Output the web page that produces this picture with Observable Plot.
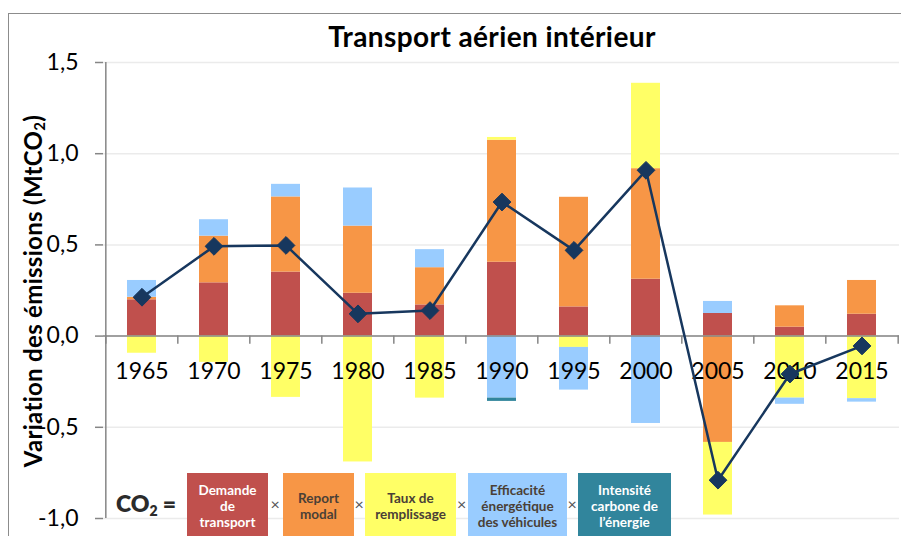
<!DOCTYPE html>
<html>
<head>
<meta charset="utf-8">
<script src="https://cdn.jsdelivr.net/npm/d3@7"></script>
<script src="https://cdn.jsdelivr.net/npm/@observablehq/plot@0.6"></script>
<style>
  body { margin: 0; background: #fff; font-family: Lato, "Open Sans", sans-serif; }
  #wrap { position: relative; width: 901px; height: 536px; overflow: hidden; background: #fff; }
  #chart { position: absolute; left: 0; top: 0; }
  #frame { position: absolute; left: 8px; top: 13px; width: 1000px; height: 1000px;
           border-left: 1.5px solid #8c8c8c; border-top: 1.5px solid #8c8c8c; pointer-events: none; }
  #title { position: absolute; left: 242px; top: 20px; width: 500px; text-align: center;
           font-weight: 700; font-size: 28px; letter-spacing: 0.4px; line-height: 32px; color: #000; }
  #ylabel { position: absolute; left: -167px; top: 276px; width: 400px; height: 30px; text-align: center;
            font-weight: 700; font-size: 24px; letter-spacing: 0.3px; line-height: 30px; color: #000; transform: rotate(-90deg); }
  #ylabel sub { font-size: 15px; vertical-align: -3px; line-height: 0; }
  .box { position: absolute; top: 473px; height: 66px; display: flex; align-items: center; justify-content: center;
         text-align: center; font-weight: 700; font-size: 13.5px; line-height: 16px; }
  .times { position: absolute; top: 494px; font-size: 16px; color: #555; }
  #co2 { position: absolute; left: 116px; top: 489px; font-weight: 800; font-size: 23px; color: #2b2b2b; }
  #co2 sub { font-size: 14px; vertical-align: -4px; line-height: 0; }
</style>
</head>
<body>
<div id="wrap">
  <div id="chart"></div>
  <div id="frame"></div>
  <div id="title">Transport aérien intérieur</div>
  <div id="ylabel">Variation des émissions (MtCO<sub>2</sub>)</div>
  <div id="legend"></div>
</div>
<script>
// ---- Data (MtCO2) ----
const years = ["1965", "1970", "1975", "1980", "1985", "1990", "1995", "2000", "2005", "2010", "2015"];
const demande    = [0.199, 0.292, 0.351, 0.235, 0.171, 0.405, 0.160, 0.312, 0.124, 0.049, 0.120];
const report     = [0.014, 0.256, 0.412, 0.368, 0.204, 0.669, 0.601, 0.606, -0.583, 0.117, 0.185];
const taux       = [-0.094, -0.144, -0.336, -0.690, -0.340, 0.015, -0.062, 0.468, -0.398, -0.340, -0.343];
const efficacite = [0.092, 0.090, 0.069, 0.209, 0.099, -0.340, -0.234, -0.479, 0.066, -0.034, -0.019];
const intensite  = [0, 0, 0, 0, 0, -0.018, 0, 0, 0, 0, 0];
const total      = [0.213, 0.492, 0.497, 0.122, 0.140, 0.735, 0.470, 0.909, -0.790, -0.208, -0.054];

const seriesNames = ["Demande de transport", "Report modal", "Taux de remplissage",
                     "Efficacité énergétique des véhicules", "Intensité carbone de l’énergie"];
const legendLabels = [["Demande", "de", "transport"], ["Report", "modal"], ["Taux de", "remplissage"],
                      ["Efficacité", "énergétique", "des véhicules"], ["Intensité", "carbone de", "l’énergie"]];
const seriesColors = ["#C0504D", "#F79646", "#FFFF66", "#99CCFF", "#31859C"];
const yTicks = [-1, -0.5, 0, 0.5, 1, 1.5];

// ---- Tables built from the arrays ----
const seriesValues = [demande, report, taux, efficacite, intensite];
const rows = seriesNames.flatMap((s, i) => years.map((y, j) => ({year: y, series: s, value: seriesValues[i][j]})));
const totalRows = years.map((y, j) => ({year: y, total: total[j]}));

const W = 901, H = 536, ML = 103, MR = 2, MT = 62, MB = 18;
const step = (W - ML - MR) / years.length;
const fmt = d => d.toFixed(1).replace(".", ",");
const axisGray = "#868686";

const chart = Plot.plot({
  width: W, height: H,
  marginLeft: ML, marginRight: MR, marginTop: MT, marginBottom: MB,
  style: {fontFamily: "Lato, 'Open Sans', sans-serif", fontSize: "23px", background: "transparent", color: "#000"},
  x: {domain: years, paddingInner: 0.6, paddingOuter: 0.3, align: 0.5, axis: null},
  y: {domain: [-1, 1.5], axis: null},
  color: {domain: seriesNames, range: seriesColors},
  marks: [
    Plot.gridY(yTicks, {stroke: "#EBEBEB", strokeOpacity: 1, strokeWidth: 1.5}),
    Plot.axisY(yTicks, {tickFormat: fmt, tickSize: 8, tickPadding: 17, stroke: axisGray, strokeWidth: 1.5,
                        fill: "#000", fontSize: 23}),
    Plot.ruleX([years[0]], {x: d => d, y1: -1, y2: 1.5, dx: -step / 2, stroke: axisGray, strokeWidth: 1.5}),
    Plot.barY(rows, {x: "year", y: "value", fill: "series"}),
    Plot.ruleY([0], {stroke: axisGray, strokeWidth: 1.5}),
    Plot.ruleX(years, {x: d => d, y1: 0, y2: -0.045, dx: -step / 2, stroke: axisGray, strokeWidth: 1.5}),
    Plot.ruleX([years[years.length - 1]], {x: d => d, y1: 0, y2: -0.045, dx: step / 2, stroke: axisGray, strokeWidth: 1.5}),
    Plot.text(years, {x: d => d, y: 0, text: d => d, dy: 36, fontSize: 23, fill: "#000"}),
    Plot.line(totalRows, {x: "year", y: "total", stroke: "#17375E", strokeWidth: 2.5}),
    Plot.dot(totalRows, {x: "year", y: "total", symbol: "diamond2", r: 8, fill: "#17375E", stroke: "#17375E", strokeWidth: 1})
  ]
});
document.getElementById("chart").appendChild(chart);

// ---- Legend (equation of factors) ----
const legend = document.getElementById("legend");
const boxPos = [[187, 81], [283, 71], [365, 91], [468, 99], [578, 93]];
const textColors = ["#fff", "#4a4036", "#4a4036", "#4a4036", "#fff"];
const co2 = document.createElement("div");
co2.id = "co2";
co2.innerHTML = "CO<sub>2</sub> =";
legend.appendChild(co2);
seriesNames.forEach((s, i) => {
  const b = document.createElement("div");
  b.className = "box";
  b.style.left = boxPos[i][0] + "px";
  b.style.width = boxPos[i][1] + "px";
  b.style.background = seriesColors[i];
  b.style.color = textColors[i];
  b.innerHTML = legendLabels[i].join("<br>");
  legend.appendChild(b);
  if (i < seriesNames.length - 1) {
    const t = document.createElement("div");
    t.className = "times";
    t.textContent = "×";
    const end = boxPos[i][0] + boxPos[i][1], next = boxPos[i + 1][0];
    t.style.left = ((end + next) / 2 - 5) + "px";
    legend.appendChild(t);
  }
});
</script>
</body>
</html>
